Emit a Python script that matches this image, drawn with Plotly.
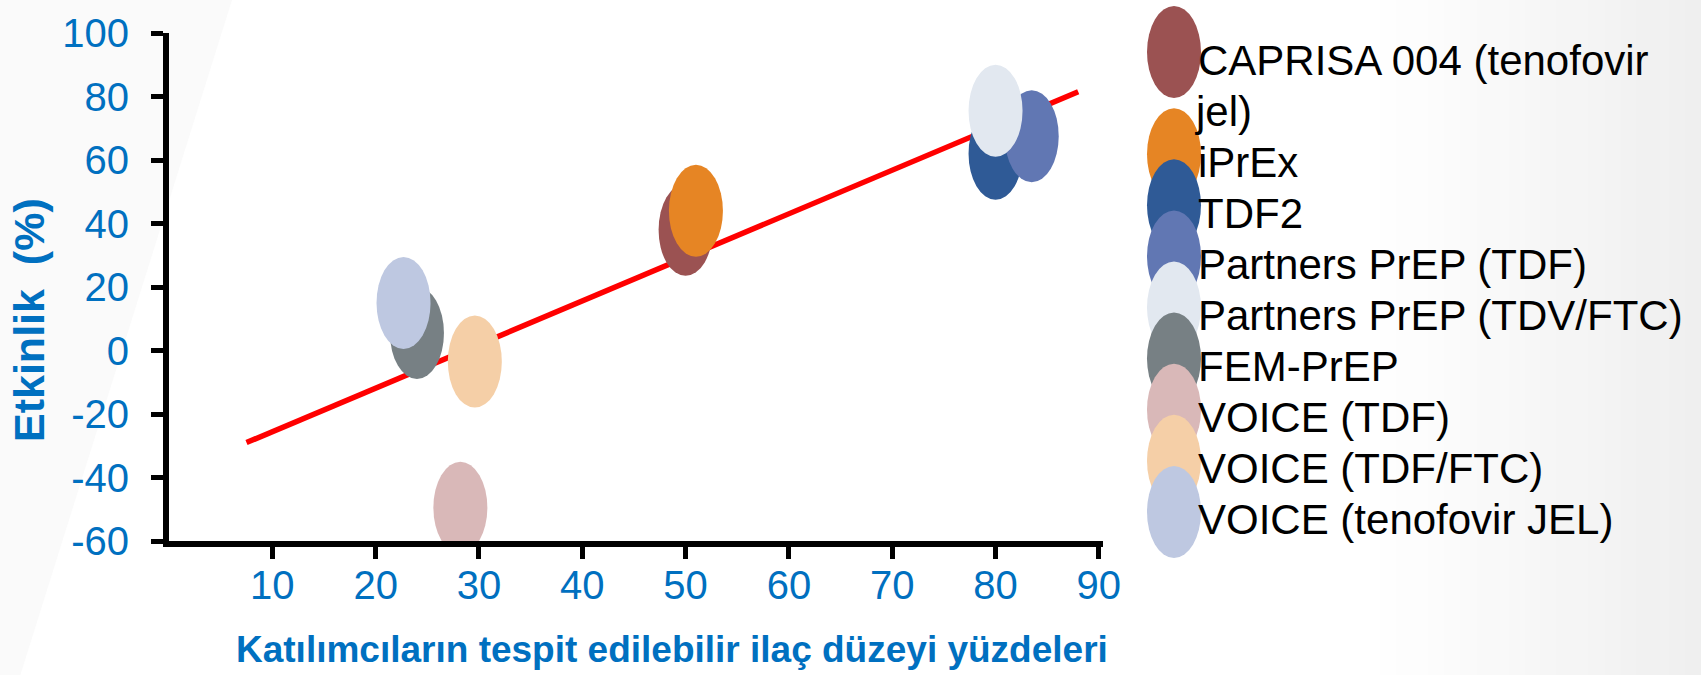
import plotly.graph_objects as go

# ---------------- data ----------------
studies = ["CAPRISA 004 (tenofovir jel)", "iPrEx", "TDF2", "Partners PrEP (TDF)",
           "Partners PrEP (TDV/FTC)", "FEM-PrEP", "VOICE (TDF)", "VOICE (TDF/FTC)",
           "VOICE (tenofovir JEL)"]
legend_lines = [["CAPRISA 004 (tenofovir", "jel)"], ["iPrEx"], ["TDF2"], ["Partners PrEP (TDF)"],
                ["Partners PrEP (TDV/FTC)"], ["FEM-PrEP"], ["VOICE (TDF)"], ["VOICE (TDF/FTC)"],
                ["VOICE (tenofovir JEL)"]]
detect_pct = [50, 51, 80, 83.5, 80, 24, 28.2, 29.6, 22.7]
efficacy = [38, 44, 62, 67.5, 75.5, 5.5, -49.5, -3.5, 15]
colors = ["#9B5252", "#E68524", "#2F5A96", "#6177B3", "#E2E8F0", "#778084",
          "#D9B8B8", "#F5CFA7", "#BEC8E1"]
trend_x = [7.5, 88]
trend_y = [-29, 81.5]
x_ticks = [10, 20, 30, 40, 50, 60, 70, 80, 90]
y_ticks = [-60, -40, -20, 0, 20, 40, 60, 80, 100]

# ---------------- layout constants ----------------
W, H = 1701, 675
L, R, T, B = 169, 598, 33, 134
PW, PH = W - L - R, H - T - B
BLUE = "#0070C0"
FONT = "Arial, Liberation Sans, sans-serif"
EW, EH = 27, 46  # ellipse half sizes (px)


def px_x(px):
    return (px - L) / PW


def px_y(py):
    return (H - B - py) / PH


fig = go.Figure()

# trend line
fig.add_trace(go.Scatter(x=trend_x, y=trend_y, mode="lines",
                         line=dict(color="#FF0000", width=5.5), showlegend=False,
                         hoverinfo="skip"))

shapes = []
# soft background: top-left wedge and right-edge gradient
shapes.append(dict(type="path", xref="paper", yref="paper",
                   path=f"M {px_x(0)},{px_y(0)} L {px_x(232)},{px_y(0)} L {px_x(0)},{px_y(740)} Z",
                   fillcolor="rgb(250,250,250)", line=dict(width=0), layer="below"))
n_strips = 20
x_start = 1380
for i in range(n_strips):
    x0 = x_start + i * (W - x_start) / n_strips
    x1 = x_start + (i + 1) * (W - x_start) / n_strips + 1
    g = int(round(255 - (i + 1) * 16 / n_strips))
    shapes.append(dict(type="rect", xref="paper", yref="paper", x0=px_x(x0), x1=px_x(x1),
                       y0=px_y(H + 5), y1=px_y(-5), fillcolor=f"rgb({g},{g},{g})",
                       line=dict(width=0), layer="below"))

# data ellipses
for i, name in enumerate(studies):
    shapes.append(dict(type="circle", xref="x", yref="y",
                       xsizemode="pixel", ysizemode="pixel",
                       xanchor=detect_pct[i], yanchor=efficacy[i],
                       x0=-EW, x1=EW, y0=-EH, y1=EH,
                       fillcolor=colors[i], line=dict(width=0), layer="above"))

# custom legend
annotations = []
row0, step = 60, 51.1
row = 0
for i, lines in enumerate(legend_lines):
    cy = row0 + row * step - 8
    shapes.append(dict(type="circle", xref="paper", yref="paper",
                       xsizemode="pixel", ysizemode="pixel",
                       xanchor=px_x(1174), yanchor=px_y(cy),
                       x0=-EW, x1=EW, y0=-EH, y1=EH,
                       fillcolor=colors[i], line=dict(width=0), layer="above"))
    for j, txt in enumerate(lines):
        ty = row0 + row * step
        annotations.append(dict(text=txt, xref="paper", yref="paper",
                                x=px_x(1196 - 4 * j), y=px_y(ty), xanchor="left", yanchor="middle",
                                showarrow=False, font=dict(family=FONT, size=42, color="#000000")))
        row += 1

# axis titles
annotations.append(dict(text="<b>Katılımcıların tespit edilebilir ilaç düzeyi yüzdeleri</b>",
                        xref="paper", yref="paper", x=px_x(672), y=px_y(649),
                        xanchor="center", yanchor="middle", showarrow=False,
                        font=dict(family=FONT, size=37, color=BLUE)))
annotations.append(dict(text="<b>Etkinlik\u00a0 (%)</b>", textangle=-90,
                        xref="paper", yref="paper", x=px_x(29), y=px_y(320),
                        xanchor="center", yanchor="middle", showarrow=False,
                        font=dict(family=FONT, size=43, color=BLUE)))

fig.update_layout(
    width=W, height=H,
    margin=dict(l=L, r=R, t=T, b=B, autoexpand=False),
    paper_bgcolor="#FFFFFF", plot_bgcolor="rgba(0,0,0,0)",
    showlegend=False,
    shapes=shapes, annotations=annotations,
    xaxis=dict(range=[0, 90.4], tickvals=x_ticks, ticktext=[str(v) for v in x_ticks],
               showgrid=False, zeroline=False, showline=True, linecolor="#000000", linewidth=6,
               ticks="outside", ticklen=12, tickwidth=5, tickcolor="#000000",
               ticklabelstandoff=-8,
               tickfont=dict(family=FONT, size=40, color=BLUE)),
    yaxis=dict(range=[-60, 100], tickvals=y_ticks, ticktext=[str(v) for v in y_ticks],
               showgrid=False, zeroline=False, showline=True, linecolor="#000000", linewidth=6,
               ticks="outside", ticklen=12, tickwidth=5, tickcolor="#000000",
               ticklabelstandoff=14,
               tickfont=dict(family=FONT, size=40, color=BLUE)),
)

fig.write_html("out.html", config={"displayModeBar": False},
               post_script="document.body.style.margin='0';document.body.style.overflow='hidden';")
